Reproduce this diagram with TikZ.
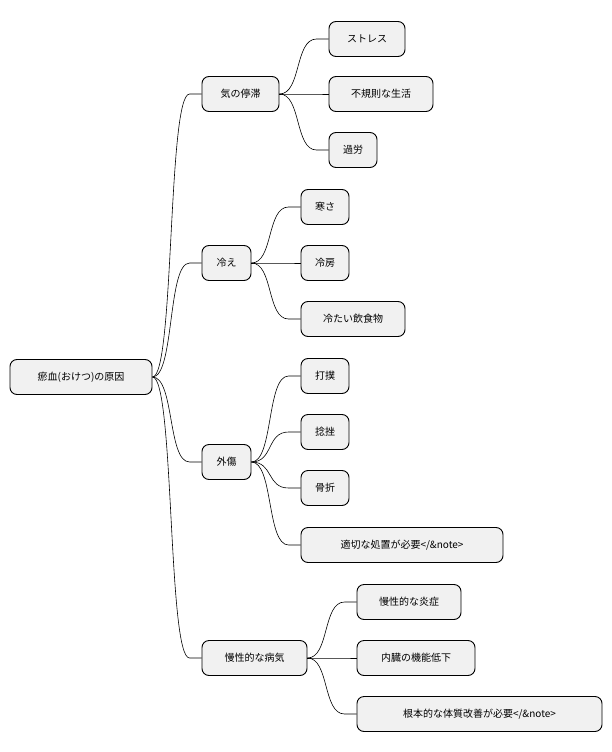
\documentclass[tikz,border=0pt]{standalone}
\usepackage{fontspec}
\newfontfamily\cjk{Noto Sans CJK JP}
\begin{document}
\begin{tikzpicture}[x=1pt,y=-1pt,
 box/.style={draw=black,fill={rgb,255:red,241;green,241;blue,241},rounded corners=7pt,line width=0.9pt,inner sep=0pt,font=\cjk\fontsize{10}{12}\selectfont,minimum height=35pt},
 e/.style={line width=0.6pt}]
\useasboundingbox (0,0) rectangle (612,752);
\node[box,minimum width=142pt] (r) at (81,377) {瘀血(おけつ)の原因};
\node[box,minimum width=77pt] (a) at (240.5,94) {気の停滞};
\node[box,minimum width=76pt] (a1) at (367,39) {ストレス};
\node[box,minimum width=104pt] (a2) at (381,94) {不規則な生活};
\node[box,minimum width=48pt] (a3) at (353,150) {過労};
\node[box,minimum width=49pt] (b) at (226.5,263) {冷え};
\node[box,minimum width=48pt] (b1) at (325,207) {寒さ};
\node[box,minimum width=48pt] (b2) at (325,263) {冷房};
\node[box,minimum width=104pt] (b3) at (353,319) {冷たい飲食物};
\node[box,minimum width=49pt] (c) at (226.5,462) {外傷};
\node[box,minimum width=48pt] (c1) at (325,376) {打撲};
\node[box,minimum width=48pt] (c2) at (325,432) {捻挫};
\node[box,minimum width=48pt] (c3) at (325,488) {骨折};
\node[box,minimum width=202pt] (c4) at (402,545) {適切な処置が必要</\&note>};
\node[box,minimum width=105pt] (d) at (254.5,658) {慢性的な病気};
\node[box,minimum width=104pt] (d1) at (409,602) {慢性的な炎症};
\node[box,minimum width=118pt] (d2) at (416,658) {内臓の機能低下};
\node[box,minimum width=245pt] (d3) at (479.5,714) {根本的な体質改善が必要</\&note>};
\foreach \p/\c in {r/a,r/b,r/c,r/d,a/a1,a/a2,a/a3,b/b1,b/b2,b/b3,c/c1,c/c2,c/c3,c/c4,d/d1,d/d2,d/d3}
 \draw[e] (\p.east) .. controls +(22,0) and +(-22,0) .. ([xshift=-12pt]\c.west) -- (\c.west);
\end{tikzpicture}
\end{document}
